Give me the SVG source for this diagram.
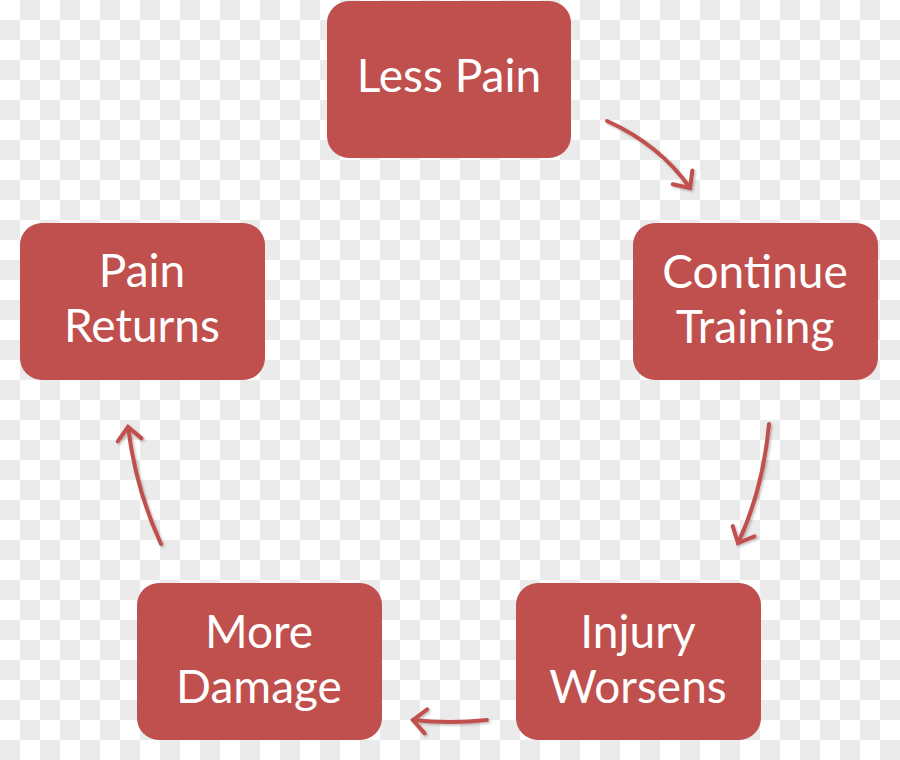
<svg xmlns="http://www.w3.org/2000/svg" width="900" height="760" viewBox="0 0 900 760">
<defs>
<pattern id="checker" x="0" y="0" width="40" height="40" patternUnits="userSpaceOnUse">
<rect width="40" height="40" fill="#ffffff"/>
<rect x="20" y="0" width="20" height="20" fill="#ebebeb"/>
<rect x="0" y="20" width="20" height="20" fill="#ebebeb"/>
</pattern>
<marker id="chev" markerUnits="userSpaceOnUse" markerWidth="30" markerHeight="30" refX="15" refY="15" orient="auto" overflow="visible">
<path d="M2,3 L15,15 L2,27" fill="none" stroke="#c0504d" stroke-width="4" stroke-linecap="round" stroke-linejoin="miter"/>
</marker>
<filter id="sh" filterUnits="userSpaceOnUse" x="0" y="0" width="900" height="760">
<feDropShadow dx="1.5" dy="1.5" stdDeviation="1.2" flood-color="#000" flood-opacity="0.25"/>
</filter>
</defs>
<style>
.box{fill:#c0504d;}
.lbl{fill:#ffffff;font-family:Lato,"Open Sans","Liberation Sans",sans-serif;font-size:46px;text-anchor:middle;}
.arr{fill:none;stroke:#c0504d;stroke-width:4;stroke-linecap:round;marker-end:url(#chev);filter:url(#sh);}
</style>
<rect width="900" height="760" fill="url(#checker)"/>
<g id="less-pain">
<rect class="box" x="327" y="1" width="244" height="157" rx="22"/>
<text class="lbl" x="449" y="92">Less Pain</text>
</g>
<g id="continue-training">
<rect class="box" x="633" y="223" width="245" height="157" rx="22"/>
<text class="lbl" x="755" y="288">Continue</text>
<text class="lbl" x="755" y="343">Training</text>
</g>
<g id="injury-worsens">
<rect class="box" x="516" y="583" width="245" height="157" rx="22"/>
<text class="lbl" x="638" y="648">Injury</text>
<text class="lbl" x="638" y="703">Worsens</text>
</g>
<g id="more-damage">
<rect class="box" x="137" y="583" width="245" height="157" rx="22"/>
<text class="lbl" x="259" y="648">More</text>
<text class="lbl" x="259" y="703">Damage</text>
</g>
<g id="pain-returns">
<rect class="box" x="20" y="223" width="245" height="157" rx="22"/>
<text class="lbl" x="142" y="287">Pain</text>
<text class="lbl" x="142" y="342">Returns</text>
</g>
<g id="connectors">
<path class="arr" d="M607,121 Q660,145 690,188"/>
<path class="arr" d="M769,424 Q763,490 738,543"/>
<path class="arr" d="M487,720 Q450,724 413,720"/>
<path class="arr" d="M161,544 Q136,490 128,427"/>
</g>
</svg>
